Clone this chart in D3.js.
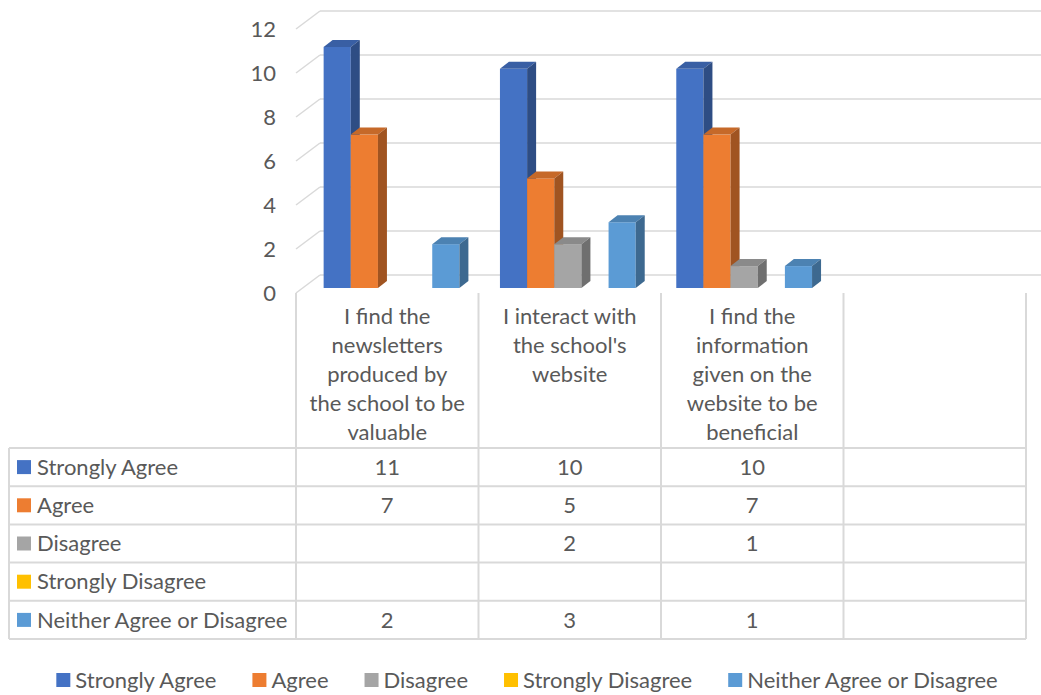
<!DOCTYPE html>
<html>
<head>
<meta charset="utf-8">
<script src="https://cdn.jsdelivr.net/npm/d3@7"></script>
<style>
  body { margin: 0; background: #fff; }
  text { font-family: Lato, "Open Sans", sans-serif; fill: #595959; }
</style>
</head>
<body>
<svg id="chart" width="1041" height="695"></svg>
<script>
// line breaks follow the original table header
const categories = [
  "I find the\nnewsletters\nproduced by\nthe school to be\nvaluable",
  "I interact with\nthe school's\nwebsite",
  "I find the\ninformation\ngiven on the\nwebsite to be\nbeneficial",
  ""
];
const seriesNames = ["Strongly Agree", "Agree", "Disagree", "Strongly Disagree", "Neither Agree or Disagree"];
const seriesColors = ["#4472C4", "#ED7D31", "#A5A5A5", "#FFC000", "#5B9BD5"];
const stronglyAgree = [11, 10, 10, null];
const agree = [7, 5, 7, null];
const disagree = [null, 2, 1, null];
const stronglyDisagree = [null, null, null, null];
const neither = [2, 3, 1, null];
const yTicks = [0, 2, 4, 6, 8, 10, 12];

const values = [stronglyAgree, agree, disagree, stronglyDisagree, neither];

const svg = d3.select('#chart');
const fontSize = 22;

// 3d offsets
const depth = { dx: 9, dy: -7 };
const wall = { left: 320, right: 1041, front: 296, drop: 18 };

const gy = d3.scaleLinear().domain([0, 12]).range([275, 11]);  // back wall
const y = d3.scaleLinear().domain([0, 12]).range([288, 25]);    // bar fronts

const x0 = d3.scaleBand().domain(categories).range([306, 1006])
  .paddingInner(0.23).paddingOuter(0.1);
const x1 = d3.scaleBand().domain(seriesNames).range([0, x0.bandwidth()]);

// gridlines
const grid = svg.append('g');
yTicks.forEach(t => {
  grid.append('line')
    .attr('x1', wall.left).attr('x2', wall.right)
    .attr('y1', gy(t)).attr('y2', gy(t))
    .attr('stroke', '#d9d9d9').attr('stroke-width', 1.5);
  grid.append('line')
    .attr('x1', wall.front).attr('x2', wall.left)
    .attr('y1', gy(t) + wall.drop).attr('y2', gy(t))
    .attr('stroke', '#d9d9d9').attr('stroke-width', 1.5);
  grid.append('text')
    .attr('x', 276).attr('y', gy(t) + wall.drop)
    .attr('dy', '0.35em')
    .attr('text-anchor', 'end')
    .style('font-size', fontSize + 'px')
    .text(t);
});

// bars
const bars = [];
categories.forEach((c, ci) => {
  seriesNames.forEach((s, si) => {
    const v = values[si][ci];
    if (v != null) bars.push({ cat: c, series: s, color: seriesColors[si], value: v });
  });
});

const bw = x1.bandwidth();
const barG = svg.selectAll('.bar').data(bars).enter().append('g').attr('class', 'bar');
barG.each(function(d) {
  const g = d3.select(this);
  const bx = x0(d.cat) + x1(d.series);
  const top = y(d.value), base = y(0);
  const col = d3.color(d.color);
  g.append('rect')
    .attr('x', bx).attr('y', top)
    .attr('width', bw).attr('height', base - top)
    .attr('fill', col);
  g.append('polygon')
    .attr('points', [[bx, top], [bx + depth.dx, top + depth.dy], [bx + bw + depth.dx, top + depth.dy], [bx + bw, top]].join(' '))
    .attr('fill', col.darker(0.5));
  g.append('polygon')
    .attr('points', [[bx + bw, top], [bx + bw + depth.dx, top + depth.dy], [bx + bw + depth.dx, base + depth.dy], [bx + bw, base]].join(' '))
    .attr('fill', col.darker(1.1));
});

// data table
const tableTop = 293, headBottom = 448, rowH = 38.2, tableLeft = 9;
const colX = d3.scaleBand().domain(categories).range([296, 1026]);
const tableBottom = headBottom + rowH * seriesNames.length;
const lineColor = '#d9d9d9';
const tbl = svg.append('g').attr('stroke', lineColor).attr('stroke-width', 2);

// verticals
[296].concat(categories.map(c => colX(c) + colX.bandwidth())).forEach(xv => {
  tbl.append('line').attr('x1', xv).attr('x2', xv).attr('y1', tableTop).attr('y2', tableBottom);
});
tbl.append('line').attr('x1', tableLeft).attr('x2', tableLeft).attr('y1', headBottom).attr('y2', tableBottom);
// horizontals
d3.range(seriesNames.length + 1).forEach(i => {
  tbl.append('line')
    .attr('x1', tableLeft).attr('x2', 1026)
    .attr('y1', headBottom + i * rowH).attr('y2', headBottom + i * rowH);
});

// header labels
categories.forEach(c => {
  const t = svg.append('text')
    .attr('text-anchor', 'middle')
    .style('font-size', fontSize + 'px');
  c.split('\n').forEach((l, i) => {
    t.append('tspan')
      .attr('x', colX(c) + colX.bandwidth() / 2)
      .attr('y', 324 + i * 29)
      .text(l);
  });
});

// row labels & values
seriesNames.forEach((s, si) => {
  const cy = headBottom + si * rowH + rowH / 2;
  svg.append('rect')
    .attr('x', 17).attr('y', cy - 7)
    .attr('width', 14).attr('height', 14)
    .attr('fill', seriesColors[si]);
  svg.append('text')
    .attr('x', 37).attr('y', cy).attr('dy', '0.35em')
    .style('font-size', fontSize + 'px')
    .text(s);
  categories.forEach((c, ci) => {
    const v = values[si][ci];
    if (v == null) return;
    svg.append('text')
      .attr('x', colX(c) + colX.bandwidth() / 2).attr('y', cy).attr('dy', '0.35em')
      .attr('text-anchor', 'middle')
      .style('font-size', fontSize + 'px')
      .text(v);
  });
});

// legend
const legend = svg.append('g');
let lx = 0;
seriesNames.forEach((s, si) => {
  const item = legend.append('g').attr('transform', `translate(${lx},0)`);
  item.append('rect').attr('x', 0).attr('y', -7).attr('width', 14).attr('height', 14)
    .attr('fill', seriesColors[si]);
  const t = item.append('text').attr('x', 19).attr('dy', '0.35em')
    .style('font-size', fontSize + 'px').text(s);
  lx += 19 + t.node().getComputedTextLength() + 36;
});
const legendW = lx - 36;
legend.attr('transform', `translate(${527 - legendW / 2},680)`);
</script>
</body>
</html>
